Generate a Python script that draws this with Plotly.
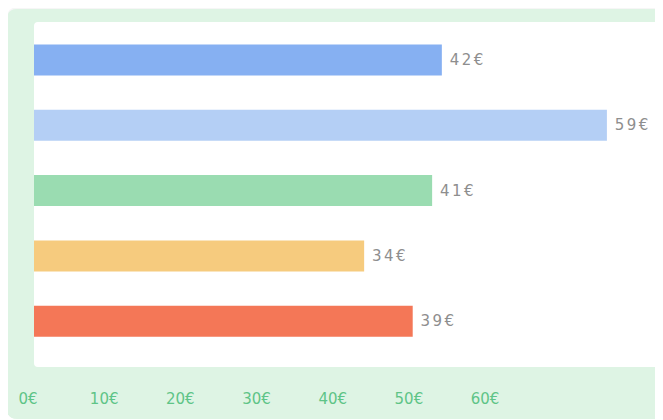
import plotly.graph_objects as go

categories = ["A", "B", "C", "D", "E"]
values = [42, 59, 41, 34, 39]
bar_colors = ["#86b0f2", "#b4cff5", "#9adcb1", "#f6cb7e", "#f47757"]
tick_values = [0, 10, 20, 30, 40, 50, 60]
tick_labels = ["0€", "10€", "20€", "30€", "40€", "50€", "60€"]

W, H = 655, 412
L, R, T, B = 16, 2, 14, 53
PW = W - L - R


def rrect(x0, y0, x1, y1, r):
    return (f"M{x0+r},{y0} L{x1-r},{y0} Q{x1},{y0} {x1},{y0+r} "
            f"L{x1},{y1-r} Q{x1},{y1} {x1-r},{y1} L{x0+r},{y1} "
            f"Q{x0},{y1} {x0},{y1-r} L{x0},{y0+r} Q{x0},{y0} {x0+r},{y0} Z")


fig = go.Figure()
fig.add_trace(go.Bar(
    x=values, y=categories, orientation="h",
    marker=dict(color=bar_colors, line=dict(width=0)),
    width=0.475,
    texttemplate="\u00a0<span style=\"letter-spacing:2.5px\">%{x}€</span>",
    textposition="outside",
    textfont=dict(family="DejaVu Sans", size=15, color="#8e8e8e"),
    cliponaxis=False, hoverinfo="skip",
))

common = dict(xref="paper", yref="paper", xsizemode="pixel", ysizemode="pixel",
              xanchor=10 / PW, yanchor=0, line=dict(width=0), layer="below")
shapes = [
    dict(type="path", path=rrect(-27, -52, 660, 360, 11),
         fillcolor="rgba(0,0,0,0.035)", **common),
    dict(type="path", path=rrect(-27, -52, 660, 358, 10),
         fillcolor="#def4e4", **common),
    dict(type="path", path=rrect(0, 0, 627, 345, 4),
         fillcolor="#ffffff", **common),
]

fig.update_layout(
    width=W, height=H,
    margin=dict(l=L, r=R, t=T, b=B, pad=0),
    paper_bgcolor="#ffffff", plot_bgcolor="rgba(0,0,0,0)",
    showlegend=False, shapes=shapes,
    xaxis=dict(range=[-1.03, 64.57], showgrid=False, zeroline=False, showticklabels=False,
               showline=False, fixedrange=True),
    xaxis2=dict(overlaying="x", anchor="y", side="bottom", range=[-0.525, 83.10],
                tickvals=tick_values, ticktext=tick_labels, showgrid=False, zeroline=False,
                showline=False, ticks="outside", ticklen=18, tickcolor="rgba(0,0,0,0)",
                tickfont=dict(family="DejaVu Sans", size=15, color="#5ec487")),
    yaxis=dict(range=[4.70, -0.58], showgrid=False, zeroline=False, showticklabels=False,
               showline=False, fixedrange=True),
    bargap=0.5,
)
fig.add_trace(go.Scatter(x=[None], y=[None], xaxis="x2", yaxis="y", showlegend=False,
                         hoverinfo="skip"))

fig.write_html("out.html")
